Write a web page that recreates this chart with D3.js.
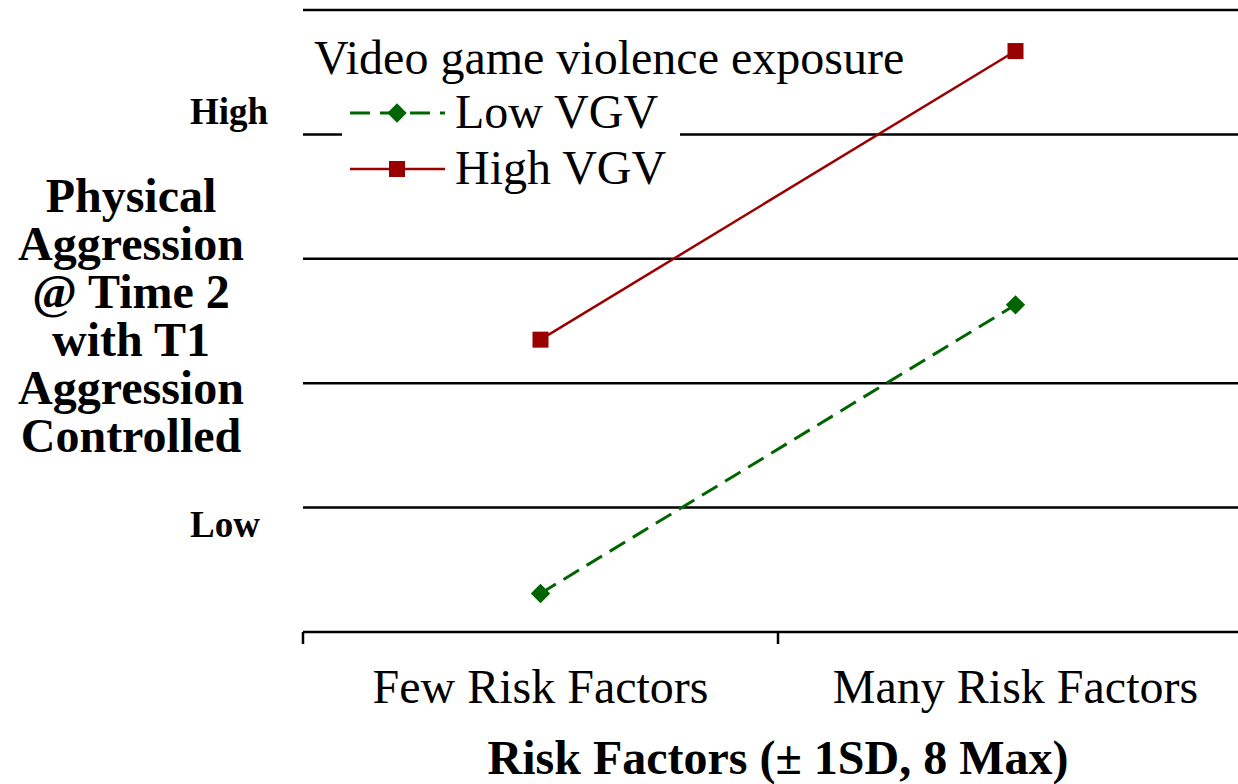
<!DOCTYPE html>
<html>
<head>
<meta charset="utf-8">
<script src="https://cdn.jsdelivr.net/npm/d3@7"></script>
<style>
  body { margin: 0; background: #fff; }
  text { font-family: "Liberation Serif", "Times New Roman", serif; }
</style>
</head>
<body>
<div id="chart"></div>
<script>
// data (arbitrary units, 0 = axis line)
var categories = ["Few Risk Factors", "Many Risk Factors"]
var lowVGV = [0.31, 2.63]
var highVGV = [2.35, 4.67]
var gridValues = [1, 2, 3, 4, 5]
var yTitleLines = ["Physical", "Aggression", "@ Time 2", "with T1", "Aggression", "Controlled"]

var width = 1238, height = 784
var plotLeft = 303, plotRight = 1253, plotTop = 10, plotBottom = 632

var svg = d3.select("#chart").append("svg")
    .attr("width", width)
    .attr("height", height)

var x = d3.scaleBand().domain(categories).range([plotLeft, plotRight])
var y = d3.scaleLinear().domain([0, 5]).range([plotBottom, plotTop])

// gridlines
svg.selectAll("line.grid")
    .data(gridValues)
    .enter().append("line")
    .attr("class", "grid")
    .attr("x1", plotLeft).attr("x2", width)
    .attr("y1", function(d) { return y(d) })
    .attr("y2", function(d) { return y(d) })
    .attr("stroke", "#000")
    .attr("stroke-width", 2.5)

// x axis
var xAxis = svg.append("g")
    .attr("transform", "translate(0," + plotBottom + ")")
    .call(d3.axisBottom(x).tickSize(0).tickPadding(0))
xAxis.select(".domain").remove()
xAxis.append("line")
    .attr("x1", plotLeft).attr("x2", width)
    .attr("stroke", "#000").attr("stroke-width", 2.5)
xAxis.selectAll(".sep")
    .data([plotLeft, (plotLeft + plotRight) / 2])
    .enter().append("line")
    .attr("x1", function(d) { return d }).attr("x2", function(d) { return d })
    .attr("y1", 0).attr("y2", 12)
    .attr("stroke", "#000").attr("stroke-width", 2.5)
xAxis.selectAll(".tick text")
    .attr("font-family", "Liberation Serif")
    .attr("font-size", 48)
    .attr("fill", "#000")
    .attr("y", 71)
    .attr("dy", null)

svg.append("text")
    .attr("x", 778).attr("y", 774)
    .attr("text-anchor", "middle")
    .attr("font-size", 48).attr("font-weight", "bold")
    .text("Risk Factors (\u00b1 1SD, 8 Max)")

// y title
svg.append("text")
    .attr("text-anchor", "middle")
    .attr("font-size", 48).attr("font-weight", "bold")
    .selectAll("tspan")
    .data(yTitleLines)
    .enter().append("tspan")
    .attr("x", 131)
    .attr("y", function(d, i) { return 212 + i * 48 })
    .text(function(d) { return d })

svg.append("text").attr("x", 190).attr("y", 124)
    .attr("font-size", 37).attr("font-weight", "bold").text("High")
svg.append("text").attr("x", 190).attr("y", 537)
    .attr("font-size", 37).attr("font-weight", "bold").text("Low")

// series
var line = d3.line()
    .x(function(d, i) { return x(categories[i]) + x.bandwidth() / 2 })
    .y(function(d) { return y(d) })

svg.append("path")
    .datum(lowVGV)
    .attr("d", line)
    .attr("fill", "none")
    .attr("stroke", "#006400")
    .attr("stroke-width", 3)
    .attr("stroke-dasharray", "18,9")

svg.append("path")
    .datum(highVGV)
    .attr("d", line)
    .attr("fill", "none")
    .attr("stroke", "#9b0000")
    .attr("stroke-width", 2.5)

svg.selectAll("path.diamond")
    .data(lowVGV)
    .enter().append("path")
    .attr("class", "diamond")
    .attr("d", d3.symbol(d3.symbolDiamond2, 240)())
    .attr("transform", function(d, i) {
      return "translate(" + (x(categories[i]) + x.bandwidth() / 2) + "," + y(d) + ")"
    })
    .attr("fill", "#006400")

svg.selectAll("rect.square")
    .data(highVGV)
    .enter().append("rect")
    .attr("class", "square")
    .attr("x", function(d, i) { return x(categories[i]) + x.bandwidth() / 2 - 8 })
    .attr("y", function(d) { return y(d) - 8 })
    .attr("width", 16).attr("height", 16)
    .attr("fill", "#9b0000")

// legend
var legend = svg.append("g")
legend.append("rect")
    .attr("x", 342).attr("y", 28).attr("width", 338).attr("height", 170)
    .attr("fill", "#fff")
legend.append("text")
    .attr("x", 314).attr("y", 74)
    .attr("font-size", 48)
    .text("Video game violence exposure")
legend.append("line")
    .attr("x1", 350).attr("x2", 445).attr("y1", 113).attr("y2", 113)
    .attr("stroke", "#006400").attr("stroke-width", 3)
    .attr("stroke-dasharray", "20,10")
legend.append("path")
    .attr("d", d3.symbol(d3.symbolDiamond2, 240)())
    .attr("transform", "translate(397,113)")
    .attr("fill", "#006400")
legend.append("text")
    .attr("x", 455).attr("y", 128)
    .attr("font-size", 48).text("Low VGV")
legend.append("line")
    .attr("x1", 350).attr("x2", 445).attr("y1", 169).attr("y2", 169)
    .attr("stroke", "#9b0000").attr("stroke-width", 2.5)
legend.append("rect")
    .attr("x", 389).attr("y", 161).attr("width", 16).attr("height", 16)
    .attr("fill", "#9b0000")
legend.append("text")
    .attr("x", 455).attr("y", 184)
    .attr("font-size", 48).text("High VGV")
</script>
</body>
</html>
